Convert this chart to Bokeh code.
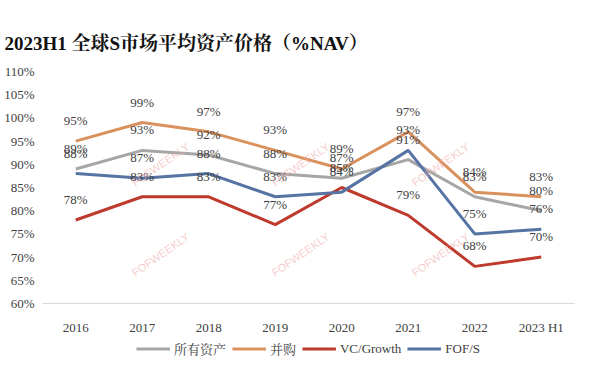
from bokeh.plotting import figure
from bokeh.layouts import column
from bokeh.models import (Range1d, FactorRange, Legend, LegendItem, Label,
                          ColumnDataSource, FixedTicker, CustomJSTickFormatter)
from bokeh.core.properties import value
from bokeh.embed import file_html
from bokeh.resources import INLINE
import math

years = ["2016", "2017", "2018", "2019", "2020", "2021", "2022", "2023 H1"]
all_assets = [89, 93, 92, 88, 87, 91, 83, 80]
buyout = [95, 99, 97, 93, 89, 97, 84, 83]
vc_growth = [78, 83, 83, 77, 85, 79, 68, 70]
fof_s = [88, 87, 88, 83, 84, 93, 75, 76]
series_names = ["所有资产", "并购", "VC/Growth", "FOF/S"]
y_ticks = [60, 65, 70, 75, 80, 85, 90, 95, 100, 105, 110]

colors = ["#A6A6A6", "#D9915E", "#BE3A2C", "#5573A3"]
SERIF = "'Liberation Serif', 'Times New Roman', 'Noto Serif CJK SC', 'Noto Sans CJK SC', serif"
TXT = "#404040"

FW, FH = 532, 232
p = figure(frame_width=FW, frame_height=FH, x_range=FactorRange(*years),
           y_range=Range1d(60, 110), output_backend="svg",
           toolbar_location=None, min_border_left=42, min_border_right=10,
           min_border_top=71, min_border_bottom=32,
           title="2023H1 全球S市场平均资产价格（%NAV）")
p.outline_line_color = None
p.background_fill_color = "white"
p.border_fill_color = "white"
p.xgrid.grid_line_color = None
p.ygrid.grid_line_color = None
p.x_range.range_padding = 0

p.title.text_font = SERIF
p.title.text_font_size = "19px"
p.title.text_font_style = "bold"
p.title.text_color = "#111111"
p.title.align = "left"
p.title.offset = -38
p.title.standoff = 36

p.yaxis.ticker = FixedTicker(ticks=y_ticks)
p.yaxis.formatter = CustomJSTickFormatter(code="return tick + '%';")
p.yaxis.axis_line_color = None
p.yaxis.major_tick_line_color = None
p.yaxis.minor_tick_line_color = None
p.yaxis.major_label_text_font = SERIF
p.yaxis.major_label_text_font_size = "13px"
p.yaxis.major_label_text_color = TXT
p.yaxis.major_label_standoff = 2

p.xaxis.axis_line_color = "#D9D9D9"
p.xaxis.axis_line_width = 1
p.xaxis.major_tick_line_color = None
p.xaxis.minor_tick_line_color = None
p.xaxis.major_label_text_font = SERIF
p.xaxis.major_label_text_font_size = "13px"
p.xaxis.major_label_text_color = TXT
p.xaxis.major_label_standoff = 10

series = [all_assets, buyout, vc_growth, fof_s]
for name, vals, c in zip(series_names, series, colors):
    src = ColumnDataSource(dict(x=years, y=vals))
    p.line("x", "y", source=src, line_color=c, line_width=3)
for name, vals, c in zip(series_names, series, colors):
    src = ColumnDataSource(dict(x=years, y=vals, lab=[f"{v}%" for v in vals]))
    p.text("x", "y", text="lab", source=src, text_font=value(SERIF),
           text_font_size="13px", text_color=TXT, text_align="center",
           text_baseline="bottom", y_offset=-13)

# watermarks (decoration, screen px relative to the frame)
for px in [168, 308, 448]:
    for py in [165, 255]:
        p.add_layout(Label(x=px - 50, y=304 - py, x_units="screen", y_units="screen",
                           text="FOFWEEKLY", text_font="'Liberation Sans', sans-serif",
                           text_font_size="11px", text_color="#F0A8A8", text_alpha=0.6,
                           angle=math.radians(35), text_align="center",
                           text_baseline="middle"))

# legend in its own strip below the chart (its proxy lines lie outside the strip's view)
lg = figure(width=584, height=22, x_range=Range1d(0, 1), y_range=Range1d(0, 1),
            output_backend="svg", toolbar_location=None,
            x_axis_location=None, y_axis_location=None,
            min_border_left=0, min_border_right=0, min_border_top=0, min_border_bottom=0)
lg.outline_line_color = None
lg.xgrid.grid_line_color = None
lg.ygrid.grid_line_color = None
items = []
for name, c in zip(series_names, colors):
    r = lg.line(x=[5, 6], y=[5, 6], line_color=c, line_width=3)
    items.append(LegendItem(label=name, renderers=[r]))
legend = Legend(items=items, orientation="horizontal", location="center",
                label_text_font=SERIF, label_text_font_size="13px",
                label_text_color=TXT, glyph_width=34, glyph_height=12,
                spacing=6, label_standoff=4, border_line_color=None,
                background_fill_alpha=0, padding=2, margin=0)
lg.add_layout(legend, "center")

layout = column(p, lg, spacing=0)
out = file_html(layout, INLINE)
open("out.html", "w").write(out)
